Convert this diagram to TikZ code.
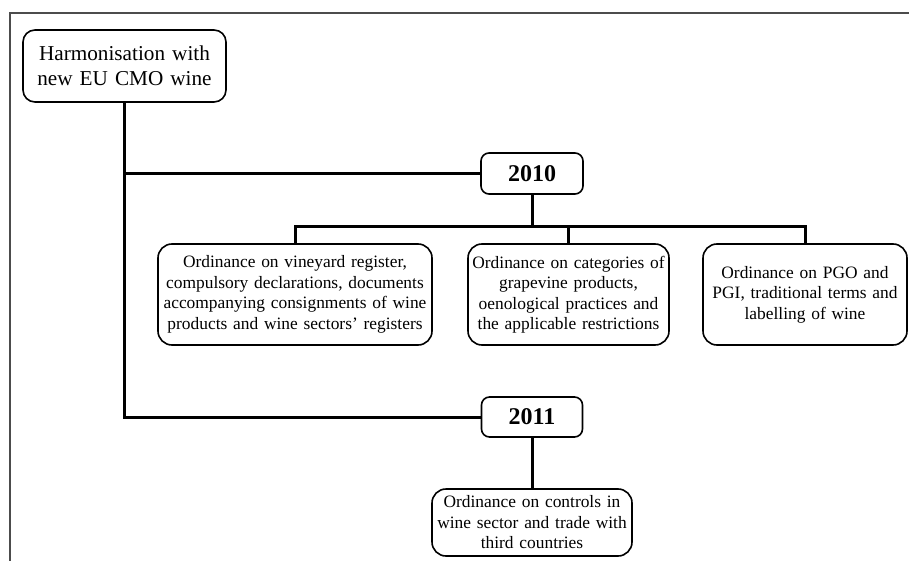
\documentclass[tikz,border=0pt]{standalone}
\usepackage{fontspec}
\setmainfont{Liberation Serif}
\begin{document}
\begin{tikzpicture}[x=1pt,y=1pt,
  box/.style={draw=black,line width=1.6pt,rounded corners=12pt,fill=white,align=center,inner sep=0pt},
  ordbox/.style={box,rounded corners=14pt,font=\fontsize{17.4}{20.5}\selectfont},
  yearbox/.style={box,rounded corners=8pt,font=\fontsize{24}{28}\selectfont\bfseries,minimum width=102pt,minimum height=41pt},
  conn/.style={line width=3pt,line cap=rect}]
\useasboundingbox (0,0) rectangle (909,-561);
\draw[line width=1.4pt,black!70] (10,-561) -- (10,-13) -- (909,-13);
\node[box,font=\fontsize{21.2}{25.5}\selectfont,minimum width=203pt,minimum height=72pt,text width=200pt] (root) at (124.5,-66) {Harmonisation with\\new EU CMO wine};
\node[yearbox] (y2010) at (532,-173.5) {2010};
\node[yearbox,minimum width=101pt,minimum height=40pt] (y2011) at (532,-417) {2011};
\node[ordbox,minimum width=274pt,minimum height=101pt,text width=272pt] (o1) at (295,-294.5) {Ordinance on vineyard register,\\compulsory declarations, documents\\accompanying consignments of wine\\products and wine sectors’ registers};
\node[ordbox,minimum width=201pt,minimum height=101pt,text width=199pt] (o2) at (568.5,-294.5) {Ordinance on categories of\\grapevine products,\\oenological practices and\\the applicable restrictions};
\node[ordbox,minimum width=204pt,minimum height=101pt,text width=202pt] (o3) at (805,-294.5) {Ordinance on PGO and\\PGI, traditional terms and\\labelling of wine};
\node[ordbox,minimum width=200pt,minimum height=67pt,text width=198pt] (o4) at (532,-522.5) {Ordinance on controls in\\wine sector and trade with\\third countries};
\coordinate (bar) at (0,-227);
\draw[conn] (root.south) -- (root.south |- y2011.west) -- (y2011.west);
\draw[conn] (root.south |- y2010.west) -- (y2010.west);
\draw[conn] (y2010.south) -- (y2010.south |- bar);
\draw[conn] (o1.north) -- (o1.north |- bar) -- (o3.north |- bar) -- (o3.north);
\draw[conn] (o2.north) -- (o2.north |- bar);
\draw[conn] (y2011.south) -- (o4.north);
\end{tikzpicture}
\end{document}
